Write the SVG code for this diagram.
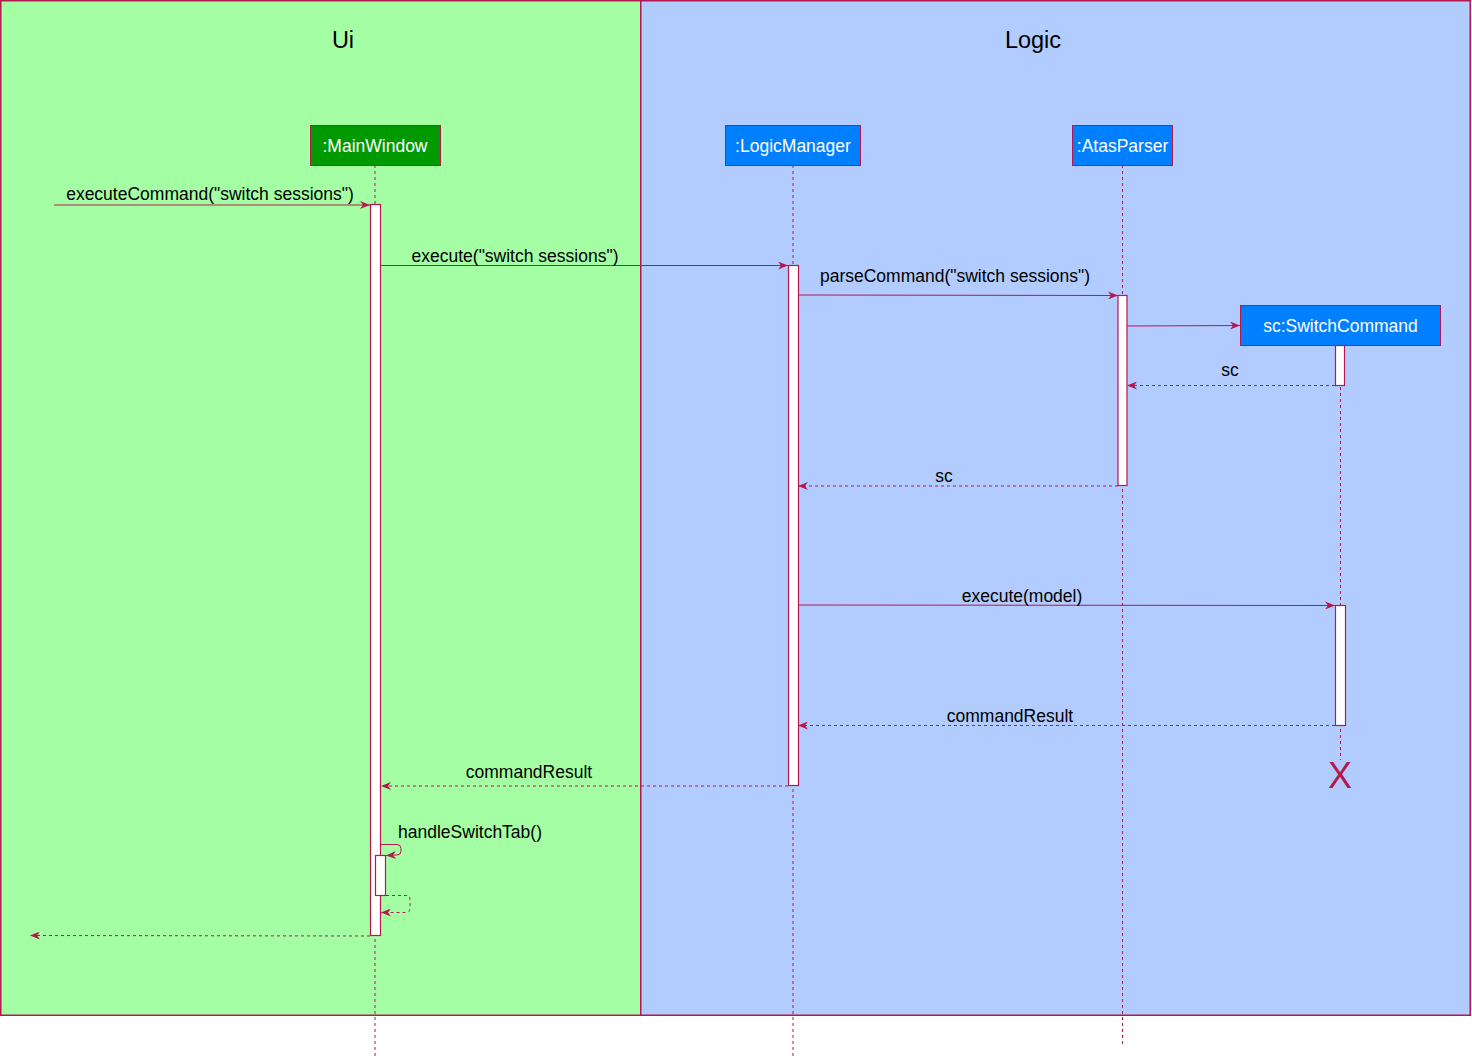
<svg xmlns="http://www.w3.org/2000/svg" width="1472" height="1057" viewBox="0 0 1472 1057">
<defs>
<style>
.frame{stroke:#B5174F;stroke-width:1.5}
.title{font-family:"Liberation Sans",Arial,sans-serif;font-size:23.5px;fill:#000;text-anchor:middle}
.node rect.head{stroke:#B5174F;stroke-width:1}
.ntext{font-family:"Liberation Sans",Arial,sans-serif;font-size:17.5px;fill:#fff;text-anchor:middle}
.life{stroke:#B5174F;stroke-width:1;stroke-dasharray:3,3;fill:none}
.act{fill:#fff;stroke:#B5174F;stroke-width:1.2}
.msg{stroke:#B5174F;stroke-width:1;fill:none}
.ret{stroke:#B5174F;stroke-width:1;fill:none;stroke-dasharray:3,3}
.lbl{font-family:"Liberation Sans",Arial,sans-serif;font-size:17.5px;fill:#000;text-anchor:middle}
</style>
<marker id="arr" viewBox="0 0 10 8" refX="10" refY="4" markerWidth="10" markerHeight="8" orient="auto" markerUnits="userSpaceOnUse">
<path d="M0,0 L10,4 L0,8 L3,4 z" fill="#B5174F"/>
</marker>
</defs>
<rect x="0.75" y="0.75" width="640" height="1014.5" fill="#A4FFA4" class="frame"/>
<rect x="640.75" y="0.75" width="829.5" height="1014.5" fill="#B2CCFF" class="frame"/>
<text x="343" y="48" class="title">Ui</text>
<text x="1033" y="48" class="title">Logic</text>

<g id="mainwindow" class="node">
<line x1="375" y1="165" x2="375" y2="1057" class="life"/>
<rect class="head" x="310.5" y="125.5" width="130" height="40" fill="#009900"/>
<text x="375" y="152" class="ntext">:MainWindow</text>
<rect x="370.5" y="204.5" width="10" height="731" class="act"/>
<rect x="375.5" y="855.5" width="10" height="40" class="act"/>
</g>
<g id="logicmanager" class="node">
<line x1="793" y1="165" x2="793" y2="1057" class="life"/>
<rect class="head" x="725.5" y="125.5" width="135" height="40" fill="#007FFF"/>
<text x="793" y="152" class="ntext">:LogicManager</text>
<rect x="788.5" y="265.5" width="10" height="520" class="act"/>
</g>
<g id="atasparser" class="node">
<line x1="1122.5" y1="165" x2="1122.5" y2="1045" class="life"/>
<rect class="head" x="1072.5" y="125.5" width="100" height="40" fill="#007FFF"/>
<text x="1122.5" y="152" class="ntext">:AtasParser</text>
<rect x="1118" y="295.5" width="9" height="190" class="act"/>
</g>
<g id="switchcommand" class="node">
<line x1="1340.5" y1="345" x2="1340.5" y2="760" class="life"/>
<rect class="head" x="1240.5" y="305.5" width="200" height="40" fill="#007FFF"/>
<text x="1340.5" y="332" class="ntext">sc:SwitchCommand</text>
<rect x="1335.5" y="345.5" width="9" height="40" class="act"/>
<rect x="1335.5" y="605.5" width="10" height="120" class="act"/>
<text x="1340" y="788" font-family="Liberation Sans,Arial,sans-serif" font-size="36" fill="#B5174F" text-anchor="middle">X</text>
</g>

<g id="connectors">
<line x1="54" y1="205" x2="370" y2="205" class="msg" marker-end="url(#arr)"/>
<text x="210" y="200" class="lbl">executeCommand("switch sessions")</text>
<line x1="381" y1="265.5" x2="788" y2="265.5" class="msg" marker-end="url(#arr)"/>
<text x="515" y="262" class="lbl">execute("switch sessions")</text>
<line x1="799" y1="295" x2="1118" y2="295.5" class="msg" marker-end="url(#arr)"/>
<text x="955" y="282" class="lbl">parseCommand("switch sessions")</text>
<line x1="1127" y1="326" x2="1240" y2="325.5" class="msg" marker-end="url(#arr)"/>
<line x1="1335" y1="385.5" x2="1127" y2="385.5" class="ret" marker-end="url(#arr)"/>
<text x="1230" y="376" class="lbl">sc</text>
<line x1="1118" y1="486" x2="798" y2="486" class="ret" marker-end="url(#arr)"/>
<text x="944" y="482" class="lbl">sc</text>
<line x1="799" y1="605" x2="1335" y2="605.5" class="msg" marker-end="url(#arr)"/>
<text x="1022" y="602" class="lbl">execute(model)</text>
<line x1="1335" y1="725.5" x2="798" y2="725.5" class="ret" marker-end="url(#arr)"/>
<text x="1010" y="722" class="lbl">commandResult</text>
<line x1="788" y1="786" x2="381" y2="786" class="ret" marker-end="url(#arr)"/>
<text x="529" y="778" class="lbl">commandResult</text>
<path d="M381,844.5 L397,844.5 Q401,844.5 401,848.5 L401,851 Q401,855 397,855 L386,855.5" class="msg" marker-end="url(#arr)"/>
<text x="470" y="838" class="lbl">handleSwitchTab()</text>
<path d="M386,895.5 L406,895.5 Q410,895.5 410,899.5 L410,908 Q410,912.5 406,912.5 L381,912.5" class="ret" marker-end="url(#arr)"/>
<line x1="370" y1="936" x2="30" y2="935.5" class="ret" marker-end="url(#arr)"/>
</g>
</svg>
